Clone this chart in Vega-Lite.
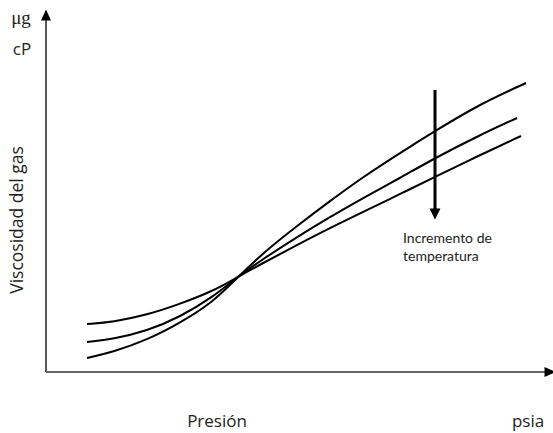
{
  "$schema": "https://vega.github.io/schema/vega-lite/v6.json",
  "width": 553,
  "height": 433,
  "padding": 0,
  "autosize": {"type": "none"},
  "config": {"view": {"stroke": null}},
  "datasets": {
    "curves": [
      {"p": 41, "v": 48, "t": "alta"}, {"p": 67, "v": 50, "t": "alta"}, {"p": 101, "v": 57, "t": "alta"}, {"p": 134, "v": 68, "t": "alta"}, {"p": 167, "v": 81, "t": "alta"}, {"p": 190, "v": 94, "t": "alta"}, {"p": 217, "v": 109, "t": "alta"}, {"p": 251, "v": 127, "t": "alta"}, {"p": 284, "v": 144, "t": "alta"}, {"p": 317, "v": 160, "t": "alta"}, {"p": 354, "v": 178, "t": "alta"}, {"p": 389, "v": 195, "t": "alta"}, {"p": 434, "v": 217, "t": "alta"}, {"p": 475, "v": 236, "t": "alta"},
      {"p": 41, "v": 30, "t": "media"}, {"p": 67, "v": 33, "t": "media"}, {"p": 101, "v": 41, "t": "media"}, {"p": 134, "v": 55, "t": "media"}, {"p": 167, "v": 75, "t": "media"}, {"p": 190, "v": 94, "t": "media"}, {"p": 217, "v": 113, "t": "media"}, {"p": 251, "v": 135, "t": "media"}, {"p": 284, "v": 155, "t": "media"}, {"p": 317, "v": 174, "t": "media"}, {"p": 354, "v": 194, "t": "media"}, {"p": 389, "v": 214, "t": "media"}, {"p": 434, "v": 237, "t": "media"}, {"p": 471, "v": 254, "t": "media"},
      {"p": 41, "v": 14, "t": "baja"}, {"p": 67, "v": 20, "t": "baja"}, {"p": 101, "v": 32, "t": "baja"}, {"p": 134, "v": 49, "t": "baja"}, {"p": 167, "v": 70, "t": "baja"}, {"p": 190, "v": 93, "t": "baja"}, {"p": 217, "v": 119, "t": "baja"}, {"p": 251, "v": 146, "t": "baja"}, {"p": 284, "v": 171, "t": "baja"}, {"p": 317, "v": 195, "t": "baja"}, {"p": 354, "v": 219, "t": "baja"}, {"p": 389, "v": 241, "t": "baja"}, {"p": 434, "v": 268, "t": "baja"}, {"p": 480, "v": 289, "t": "baja"}
    ]
  },
  "layer": [
    {
      "data": {"name": "curves"},
      "mark": {"type": "line", "interpolate": "basis", "color": "black", "strokeWidth": 2},
      "encoding": {
        "x": {"field": "p", "type": "quantitative", "scale": {"domain": [-46, 507], "nice": false, "zero": false}, "axis": null},
        "y": {"field": "v", "type": "quantitative", "scale": {"domain": [-61, 372], "nice": false, "zero": false}, "axis": null},
        "detail": {"field": "t"}
      }
    },
    {
      "data": {"values": [{"x": 0, "y": 0, "x2": 0, "y2": 352}]},
      "mark": {"type": "rule", "color": "#222", "strokeWidth": 1.5},
      "encoding": {
        "x": {"field": "x", "type": "quantitative"},
        "y": {"field": "y", "type": "quantitative"},
        "x2": {"field": "x2"},
        "y2": {"field": "y2"}
      }
    },
    {
      "data": {"values": [{"x": 0, "y": 0, "x2": 499, "y2": 0}]},
      "mark": {"type": "rule", "color": "#666", "strokeWidth": 2},
      "encoding": {
        "x": {"field": "x", "type": "quantitative"},
        "y": {"field": "y", "type": "quantitative"},
        "x2": {"field": "x2"},
        "y2": {"field": "y2"}
      }
    },
    {
      "data": {"values": [{"x": 0, "y": 357}]},
      "mark": {"type": "point", "shape": "M-1,1.1L1,1.1L0,-1.1Z", "size": 100, "filled": true, "color": "black", "opacity": 1},
      "encoding": {
        "x": {"field": "x", "type": "quantitative"},
        "y": {"field": "y", "type": "quantitative"}
      }
    },
    {
      "data": {"values": [{"x": 504, "y": 0}]},
      "mark": {"type": "point", "shape": "M-1.1,-1L1.1,0L-1.1,1Z", "size": 100, "filled": true, "color": "black", "opacity": 1},
      "encoding": {
        "x": {"field": "x", "type": "quantitative"},
        "y": {"field": "y", "type": "quantitative"}
      }
    },
    {
      "data": {"values": [{"x": 389, "y": 282, "x2": 389, "y2": 163}]},
      "mark": {"type": "rule", "color": "black", "strokeWidth": 3},
      "encoding": {
        "x": {"field": "x", "type": "quantitative"},
        "y": {"field": "y", "type": "quantitative"},
        "x2": {"field": "x2"},
        "y2": {"field": "y2"}
      }
    },
    {
      "data": {"values": [{"x": 389, "y": 158}]},
      "mark": {"type": "point", "shape": "M-1,-1L1,-1L0,1Z", "size": 121, "filled": true, "color": "black", "opacity": 1},
      "encoding": {
        "x": {"field": "x", "type": "quantitative"},
        "y": {"field": "y", "type": "quantitative"}
      }
    },
    {
      "data": {"values": [{"x": 357, "y": 129, "label": "Incremento de"}, {"x": 357, "y": 111, "label": "temperatura"}]},
      "mark": {"type": "text", "font": "Lato", "fontSize": 14, "align": "left", "baseline": "alphabetic", "color": "#222"},
      "encoding": {
        "x": {"field": "x", "type": "quantitative"},
        "y": {"field": "y", "type": "quantitative"},
        "text": {"field": "label"}
      }
    },
    {
      "data": {"values": [{"x": 171, "y": -55, "label": "Presión"}, {"x": 482, "y": -55, "label": "psia"}, {"x": -24, "y": 317, "label": "cP"}]},
      "mark": {"type": "text", "font": "Open Sans", "fontSize": 17, "align": "center", "baseline": "alphabetic", "color": "#222"},
      "encoding": {
        "x": {"field": "x", "type": "quantitative"},
        "y": {"field": "y", "type": "quantitative"},
        "text": {"field": "label"}
      }
    },
    {
      "data": {"values": [{"x": -28, "y": 152, "label": "Viscosidad del gas"}]},
      "mark": {"type": "text", "font": "Open Sans", "fontSize": 17.5, "align": "center", "baseline": "middle", "angle": 270, "color": "#222"},
      "encoding": {
        "x": {"field": "x", "type": "quantitative"},
        "y": {"field": "y", "type": "quantitative"},
        "text": {"field": "label"}
      }
    },
    {
      "data": {"values": [{"x": -25, "y": 348, "label": "μg"}]},
      "mark": {"type": "text", "font": "Liberation Serif", "fontSize": 19, "align": "center", "baseline": "alphabetic", "color": "#222"},
      "encoding": {
        "x": {"field": "x", "type": "quantitative"},
        "y": {"field": "y", "type": "quantitative"},
        "text": {"field": "label"}
      }
    }
  ]
}
